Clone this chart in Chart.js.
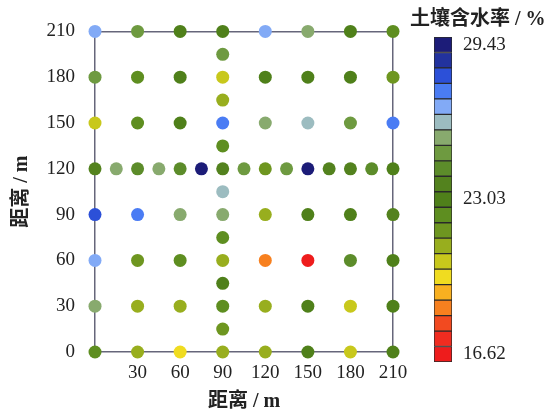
<!DOCTYPE html>
<html>
<head>
<meta charset="utf-8">
<script src="https://cdn.jsdelivr.net/npm/chart.js@4/dist/chart.umd.min.js"></script>
<style>
  html, body { margin: 0; padding: 0; background: #fff; }
  #wrap { position: relative; width: 551px; height: 414px; overflow: hidden; }
  #main { position: absolute; left: 0; top: 0; }
  #bar { position: absolute; left: 405px; top: 0; }
  #barTitle {
    position: absolute; left: 410px; top: 2px;
    font: bold 20px 'Liberation Serif', 'Noto Sans CJK SC', serif;
    color: #222; white-space: nowrap;
  }
</style>
</head>
<body>
<div id="wrap">
  <canvas id="main" width="551" height="414"></canvas>
  <canvas id="bar" width="146" height="414"></canvas>
  <div id="barTitle">土壤含水率 / %</div>
</div>
<script>
// Sampling grid (m)
const gridX = [0, 30, 60, 90, 120, 150, 180, 210];
const gridY = [0, 30, 60, 90, 120, 150, 180, 210];
// Extra points on the two transects (x = 90 column, y = 120 row)
const transectX = 90;
const transectY = 120;
const transectOffsets = [15, 45, 75, 105, 135, 165, 195];

// Soil moisture (%) on the grid, one row per gridY value, ordered by gridX
const moisture_y0   = [22.41, 21.05, 19.85, 21.18, 20.96, 23.02, 20.43, 23.10];
const moisture_y30  = [25.52, 21.22, 20.98, 22.36, 21.08, 22.93, 20.55, 23.06];
const moisture_y60  = [26.84, 21.70, 22.45, 21.30, 18.57, 16.62, 24.28, 23.00];
const moisture_y90  = [28.12, 27.48, 25.62, 25.50, 21.02, 22.88, 23.12, 23.60];
const moisture_y120 = [23.70, 24.25, 24.36, 23.58, 21.80, 29.35, 23.62, 23.08];
const moisture_y150 = [20.52, 22.33, 22.95, 27.55, 25.60, 26.20, 24.92, 27.46];
const moisture_y180 = [24.98, 22.44, 23.05, 20.41, 23.11, 22.97, 23.04, 21.76];
const moisture_y210 = [26.90, 24.88, 22.99, 23.07, 26.83, 25.57, 23.01, 22.52];
const moistureRows = [moisture_y0, moisture_y30, moisture_y60, moisture_y90,
                      moisture_y120, moisture_y150, moisture_y180, moisture_y210];

// Column x = 90 at y = 15 ... 195
const moistureColumn90 = [21.74, 22.98, 22.40, 26.25, 22.36, 21.12, 24.93];
// Row y = 120 at x = 15 ... 195
const moistureRow120 = [25.55, 25.62, 29.43, 24.96, 25.05, 23.65, 24.30];

// Colour bar
const barMin = 16.62;
const barMax = 29.43;
const barTickValues = [16.62, 23.03, 29.43];
const barPalette = [
  '#ee1c1c', '#f02c20', '#f24a20', '#f7801f', '#f8b020', '#f0dc20', '#c8c81c',
  '#98ae1e', '#6e9620', '#5e8e20', '#4f801a', '#53821e', '#5c8c2a', '#6e9a40',
  '#88aa6e', '#9cbcc0', '#82aaf6', '#4a7cf4', '#2c50d8', '#22329e', '#1c1c78'
];
const barStep = (barMax - barMin) / (barPalette.length - 1);

function colorFor(v) {
  let k = Math.round((v - barMin) / barStep);
  k = Math.max(0, Math.min(barPalette.length - 1, k));
  return barPalette[k];
}

// Build the point list
const points = [];
gridY.forEach((y, i) => {
  gridX.forEach((x, j) => points.push({ x: x, y: y, v: moistureRows[i][j] }));
});
transectOffsets.forEach((d, i) => {
  points.push({ x: transectX, y: d, v: moistureColumn90[i] });
  points.push({ x: d, y: transectY, v: moistureRow120[i] });
});

const tickFont = { family: "'Liberation Serif', serif", size: 19 };
const titleFont = { family: "'Liberation Serif', 'Noto Sans CJK SC', serif", size: 20, weight: 'bold' };
const frameColor = '#66667a';
const frameGrid = {
  drawTicks: false,
  lineWidth: 1.5,
  color: ctx => (ctx.tick && (ctx.tick.value === 0 || ctx.tick.value === 210)) ? frameColor : 'rgba(0,0,0,0)'
};

new Chart(document.getElementById('main'), {
  type: 'scatter',
  data: {
    datasets: [{
      data: points,
      pointRadius: 6.5,
      pointHoverRadius: 6.5,
      borderWidth: 0,
      pointBorderWidth: 0,
      pointBackgroundColor: ctx => colorFor(ctx.raw.v),
      clip: false
    }]
  },
  options: {
    responsive: false,
    animation: false,
    layout: { padding: { left: 0, top: 20, right: 158, bottom: 0 } },
    plugins: { legend: { display: false }, tooltip: { enabled: false } },
    scales: {
      x: {
        type: 'linear', min: 0, max: 210,
        grid: frameGrid,
        border: { display: false },
        ticks: {
          stepSize: 30, padding: 10, color: '#222', font: tickFont,
          maxRotation: 0, autoSkip: false,
          callback: v => (v === 0 ? '' : v)
        },
        title: { display: true, text: '距离 / m', color: '#222', font: titleFont, padding: { top: 0, bottom: 0 } },
        afterFit: s => { s.height = 62; }
      },
      y: {
        type: 'linear', min: 0, max: 210,
        grid: frameGrid,
        border: { display: false },
        ticks: { stepSize: 30, padding: 20, color: '#222', font: tickFont, autoSkip: false },
        title: { display: true, text: '距离 / m', color: '#222', font: titleFont, padding: { top: 10, bottom: 0 } },
        afterFit: s => { s.width = 95; }
      }
    }
  }
});

// Colour bar: one floating bar segment per palette entry
const barDatasets = barPalette.map((c, k) => ({
  data: [[barMin + (k - 0.5) * barStep, barMin + (k + 0.5) * barStep]],
  backgroundColor: c,
  borderColor: '#2a2a2a',
  borderWidth: 1,
  borderSkipped: false,
  grouped: false,
  barPercentage: 1,
  categoryPercentage: 1
}));

new Chart(document.getElementById('bar'), {
  type: 'bar',
  data: { labels: [''], datasets: barDatasets },
  options: {
    responsive: false,
    animation: false,
    layout: { padding: { left: 29, top: 37, right: 0, bottom: 52 } },
    plugins: { legend: { display: false }, tooltip: { enabled: false } },
    scales: {
      x: { display: false },
      y: {
        position: 'right',
        min: barMin - barStep / 2,
        max: barMax + barStep / 2,
        grid: { display: false },
        border: { display: false },
        afterBuildTicks: s => { s.ticks = barTickValues.map(v => ({ value: v })); },
        ticks: { padding: 3, color: '#222', font: tickFont, callback: v => v.toFixed(2) },
        afterFit: s => { s.width = 99; }
      }
    }
  }
});
</script>
</body>
</html>
